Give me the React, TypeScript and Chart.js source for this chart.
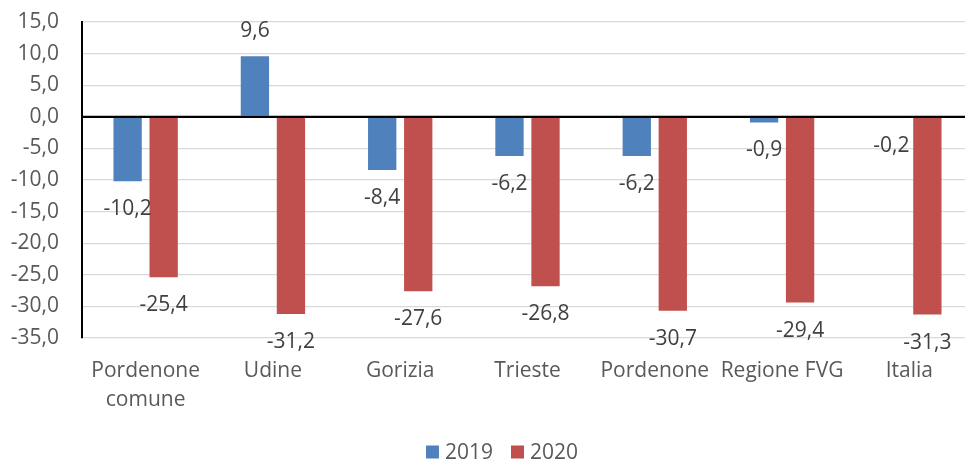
import { useEffect, useRef } from 'react';
import { Chart, registerables } from 'chart.js';

Chart.register(...registerables);

const categories: (string | string[])[] = [
  ['Pordenone', 'comune'],
  'Udine',
  'Gorizia',
  'Trieste',
  'Pordenone',
  'Regione FVG',
  'Italia',
];
const seriesLabels = ['2019', '2020'];
const values2019 = [-10.2, 9.6, -8.4, -6.2, -6.2, -0.9, -0.2];
const values2020 = [-25.4, -31.2, -27.6, -26.8, -30.7, -29.4, -31.3];
const yMin = -35;
const yMax = 15;
const yStep = 5;

const FONT = '"Open Sans", "DejaVu Sans", sans-serif';
const FS = 21;
const BLUE = '#4F81BD';
const RED = '#C0504D';

const fmt = (v: number) => v.toFixed(1).replace('.', ',');

export default function App() {
  const ref = useRef<HTMLCanvasElement>(null);

  useEffect(() => {
    if (!ref.current) return;

    const valueLabels = {
      id: 'valueLabels',
      afterDatasetsDraw(chart: any) {
        const { ctx, chartArea, scales } = chart;
        const y0 = scales.y.getPixelForValue(0);
        ctx.save();
        ctx.strokeStyle = '#000';
        ctx.lineWidth = 2;
        ctx.beginPath();
        ctx.moveTo(chartArea.left, y0);
        ctx.lineTo(chartArea.right, y0);
        ctx.stroke();
        ctx.font = `${FS}px ${FONT}`;
        ctx.fillStyle = '#404040';
        ctx.textAlign = 'center';
        ctx.textBaseline = 'middle';
        chart.data.datasets.forEach((ds: any, di: number) => {
          const meta = chart.getDatasetMeta(di);
          meta.data.forEach((el: any, i: number) => {
            const v = ds.data[i] as number;
            const y = v < 0 ? el.y + 28 : el.y - 25;
            ctx.fillText(fmt(v), el.x, y);
          });
        });
        ctx.restore();
      },
    };

    const customLegend = {
      id: 'customLegend',
      afterDraw(chart: any) {
        const { ctx } = chart;
        const box = 13;
        const gap = 6;
        const itemGap = 18;
        const centerX = 502;
        const centerY = 452;
        ctx.save();
        ctx.font = `${FS}px ${FONT}`;
        ctx.textBaseline = 'middle';
        ctx.textAlign = 'left';
        const items = chart.data.datasets.map((ds: any) => ({
          label: ds.label,
          color: ds.backgroundColor,
          w: box + gap + ctx.measureText(ds.label).width,
        }));
        const total = items.reduce((s: number, it: any) => s + it.w, 0) + itemGap * (items.length - 1);
        let x = centerX - total / 2;
        items.forEach((it: any) => {
          ctx.fillStyle = it.color;
          ctx.fillRect(x, centerY - box / 2, box, box);
          ctx.fillStyle = '#595959';
          ctx.fillText(it.label, x + box + gap, centerY + 1);
          x += it.w + itemGap;
        });
        ctx.restore();
      },
    };

    const chart = new Chart(ref.current, {
      type: 'bar',
      data: {
        labels: categories,
        datasets: [
          {
            label: seriesLabels[0],
            data: values2019,
            backgroundColor: BLUE,
            borderWidth: 0,
            categoryPercentage: 0.566,
            barPercentage: 0.786,
          },
          {
            label: seriesLabels[1],
            data: values2020,
            backgroundColor: RED,
            borderWidth: 0,
            categoryPercentage: 0.566,
            barPercentage: 0.786,
          },
        ],
      },
      options: {
        responsive: false,
        animation: false,
        devicePixelRatio: 1,
        layout: { padding: { top: 22, right: 2, left: 0, bottom: 0 } },
        plugins: {
          legend: { display: false },
          tooltip: { enabled: false },
        },
        scales: {
          x: {
            grid: { display: false },
            border: { display: false },
            ticks: {
              color: '#595959',
              font: { family: FONT, size: FS, lineHeight: 1.4 },
              padding: 10,
              maxRotation: 0,
              autoSkip: false,
            },
            afterFit: (s: any) => {
              s.height = 125;
            },
          },
          y: {
            min: yMin,
            max: yMax,
            grid: {
              color: (c: any) => (c.tick && c.tick.value === 0 ? '#000' : '#D9D9D9'),
              lineWidth: (c: any) => (c.tick && c.tick.value === 0 ? 2 : 1.3),
              drawTicks: true,
              tickLength: 23,
              tickColor: 'rgba(0,0,0,0)',
            },
            border: { display: true, color: '#000', width: 2 },
            ticks: {
              stepSize: yStep,
              color: '#595959',
              font: { family: FONT, size: FS },
              padding: 0,
              callback: (v: any) => fmt(Number(v)),
            },
            afterFit: (s: any) => {
              s.width = 82;
            },
          },
        },
      },
      plugins: [valueLabels, customLegend],
    });

    return () => chart.destroy();
  }, []);

  return (
    <div
      style={{
        position: 'absolute',
        left: 0,
        top: 0,
        width: 965,
        height: 463,
        overflow: 'hidden',
        background: '#fff',
      }}
    >
      <canvas ref={ref} width={975} height={463} style={{ display: 'block' }} />
    </div>
  );
}
